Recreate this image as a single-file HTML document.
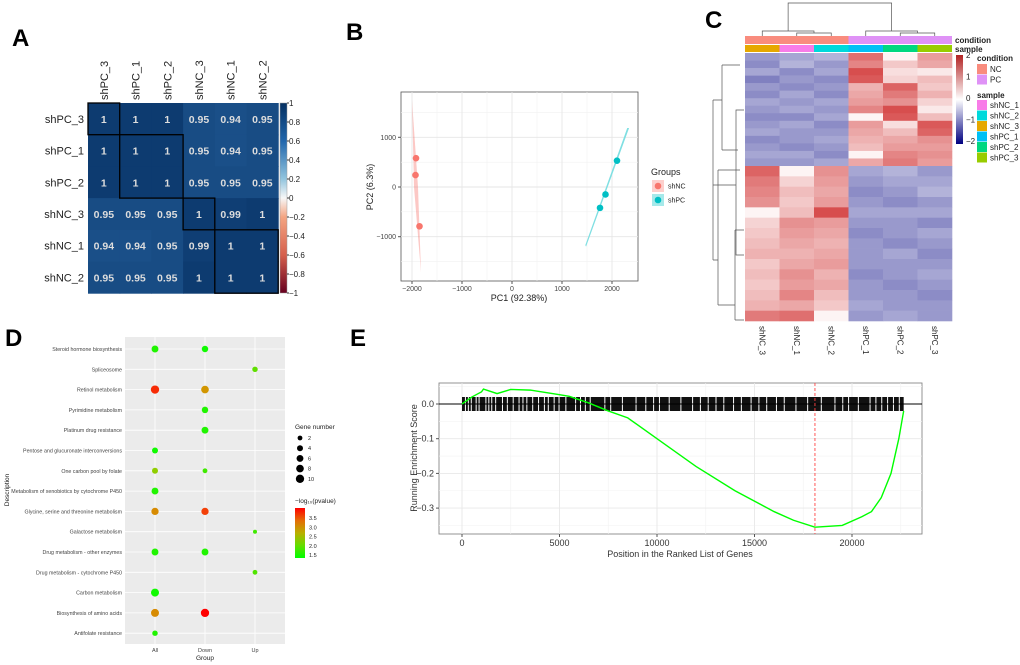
<!DOCTYPE html>
<html><head><meta charset="utf-8"><style>
body{margin:0;background:#fff;}
svg{display:block;font-family:"Liberation Sans",Arial,sans-serif;}
</style></head><body>
<svg id="s" width="1020" height="665" viewBox="0 0 1020 665">
<text x="12" y="46" font-size="24" font-weight="bold">A</text>
<text x="346" y="40" font-size="24" font-weight="bold">B</text>
<text x="705" y="28" font-size="24" font-weight="bold">C</text>
<text x="5" y="346" font-size="24" font-weight="bold">D</text>
<text x="350" y="346" font-size="24" font-weight="bold">E</text>
</svg>
<script>
const NS='http://www.w3.org/2000/svg';const S=document.getElementById('s');
function mk(t,a,p){const e=document.createElementNS(NS,t);for(const k in a)e.setAttribute(k,a[k]);(p||S).appendChild(e);return e;}
function tx(x,y,s,a,p){const e=mk('text',Object.assign({x:x,y:y},a),p);e.textContent=s;return e;}

// ---------- Panel A data ----------
const corrLabels=['shPC_3','shPC_1','shPC_2','shNC_3','shNC_1','shNC_2'];
const corrValues=[[1,1,1,0.95,0.94,0.95],[1,1,1,0.95,0.94,0.95],[1,1,1,0.95,0.95,0.95],[0.95,0.95,0.95,1,0.99,1],[0.94,0.94,0.95,0.99,1,1],[0.95,0.95,0.95,1,1,1]];
const corrTicks=[1,0.8,0.6,0.4,0.2,0,-0.2,-0.4,-0.6,-0.8,-1];
// ---------- Panel B data ----------
const pcaNC_x=[-1920,-1930,-1850], pcaNC_y=[580,240,-790];
const pcaPC_x=[2100,1870,1760], pcaPC_y=[530,-150,-420];
const pcaXTicks=[-2000,-1000,0,1000,2000], pcaYTicks=[1000,0,-1000];
// ---------- Panel C data ----------
const hmCols=['shNC_3','shNC_1','shNC_2','shPC_1','shPC_2','shPC_3'];
const hmRowsTop=[[-0.8,-0.7,-0.6,1.3,0.1,0.9],[-0.9,-0.6,-0.8,1.1,0.5,0.8],[-0.7,-0.9,-0.7,1.6,0.3,0.2],[-1.0,-0.8,-0.9,1.5,0.4,0.6],[-0.8,-0.9,-0.8,0.7,1.4,0.5],[-0.9,-0.7,-0.9,0.8,1.2,0.7],[-0.7,-0.8,-0.7,0.9,1.0,0.4],[-0.8,-0.7,-0.8,1.1,1.6,0.2],[-0.9,-0.9,-0.7,0.1,1.5,0.6],[-0.8,-0.7,-0.9,0.9,0.3,1.5],[-0.7,-0.8,-0.8,0.8,0.6,1.4],[-0.9,-0.8,-0.7,0.7,0.8,1.0],[-0.8,-0.9,-0.8,0.6,0.9,0.9],[-0.7,-0.7,-0.9,0.1,1.1,1.0],[-0.8,-0.8,-0.7,0.8,1.2,0.9]];
const hmRowsBot=[[1.4,0.1,1.0,-0.7,-0.6,-0.8],[1.2,0.4,0.9,-0.8,-0.7,-0.7],[1.1,0.6,0.8,-0.9,-0.8,-0.6],[1.0,0.5,0.9,-0.8,-0.9,-0.8],[0.1,0.6,1.6,-0.7,-0.7,-0.7],[0.4,1.0,0.9,-0.8,-0.8,-0.9],[0.5,0.9,0.8,-0.9,-0.8,-0.7],[0.6,0.8,0.7,-0.8,-0.9,-0.8],[0.7,0.7,0.8,-0.8,-0.7,-0.9],[0.5,0.8,0.9,-0.8,-0.8,-0.8],[0.6,1.0,0.7,-0.9,-0.8,-0.7],[0.5,0.9,0.8,-0.8,-0.9,-0.8],[0.6,1.1,0.6,-0.8,-0.8,-0.9],[0.7,0.8,0.5,-0.7,-0.8,-0.8],[1.2,1.3,0.1,-0.8,-0.7,-0.8]];
// ---------- Panel D data ----------
const goTerms=['Steroid hormone biosynthesis','Spliceosome','Retinol metabolism','Pyrimidine metabolism','Platinum drug resistance','Pentose and glucuronate interconversions','One carbon pool by folate','Metabolism of xenobiotics by cytochrome P450','Glycine, serine and threonine metabolism','Galactose metabolism','Drug metabolism - other enzymes','Drug metabolism - cytochrome P450','Carbon metabolism','Biosynthesis of amino acids','Antifolate resistance'];
const goGroups=['All','Down','Up'];
const dotTerm=[0,0,1,2,2,3,4,5,6,6,7,8,8,9,10,10,11,12,13,13,14];
const dotGroup=[0,1,2,0,1,1,1,0,0,1,0,0,1,2,0,1,2,0,0,1,0];
const dotCount=[6,5,3,10,8,5,6,4,4,2,6,7,7,1,6,6,2,9,9,10,3];
const dotLogP=[1.6,1.5,2.0,3.7,2.9,1.6,1.6,1.5,2.3,1.8,1.6,3.0,3.6,1.8,1.6,1.6,1.9,1.5,3.0,3.9,1.6];
// ---------- Panel E data ----------
const gseaPos=[0,500,1000,1100,1800,2500,3500,5000,5500,6500,7500,8500,10000,12000,14000,16000,17000,18100,19500,20500,21000,21500,22000,22400,22650];
const gseaES=[0,0.02,0.035,0.043,0.03,0.042,0.04,0.027,0.022,0.003,-0.02,-0.04,-0.1,-0.18,-0.25,-0.31,-0.335,-0.355,-0.35,-0.325,-0.31,-0.27,-0.2,-0.1,-0.02];
const gseaGaps=[150,300,450,700,850,1200,1350,1500,1700,2050,2300,2600,2900,3100,3300,3600,3900,4200,4400,4700,4950,5300,5800,6050,6300,6550,7300,7600,8200,8900,9400,9800,10100,10600,11200,11800,12200,12600,13000,13400,13900,14300,14800,15200,15600,16100,16500,17100,17700,18400,19100,19500,19800,20300,20900,21200,21500,21800,22100,22400];
const gseaXTicks=[0,5000,10000,15000,20000], gseaYTicks=[0,-0.1,-0.2,-0.3];

// ===== Panel A =====
(function(){
 const x0=88,y0=103,cw=31.7;
 function col(v){
  if(v>=0.9){const t=(1-v)/0.1;return `rgb(${Math.round(13+t*22)},${Math.round(59+t*33)},${Math.round(112+t*40)})`;}
  return '#2166ac';}
 const g=mk('g',{});
 corrValues.forEach((row,i)=>row.forEach((v,j)=>{
  const r=mk('rect',{x:x0+j*cw,y:y0+i*cw,width:cw+0.5,height:cw+0.5,fill:col(v)},g);
  
  const t=tx(x0+j*cw+cw/2,y0+i*cw+cw/2+4,String(v),{'font-size':10.5,'font-weight':'bold',fill:'#ddd','text-anchor':'middle'},g);
  
 }));
 const boxes=[[0,1],[1,3],[3,4],[4,6]];
 boxes.forEach(b=>{const r=mk('rect',{x:x0+b[0]*cw,y:y0+b[0]*cw,width:(b[1]-b[0])*cw,height:(b[1]-b[0])*cw,fill:'none',stroke:'#000','stroke-width':1.3},g);});
 corrLabels.forEach((l,i)=>{
  const t=tx(x0-4,y0+i*cw+cw/2+4,l,{'font-size':11,'text-anchor':'end',fill:'#222'},g);
  const c=tx(0,0,l,{'font-size':11,fill:'#222',transform:`translate(${x0+i*cw+cw/2+4},${y0-3}) rotate(-90)`},g);
 });
 const gr=mk('linearGradient',{id:'rdbu',x1:0,y1:0,x2:0,y2:1},mk('defs',{}));
 [['0','#053061'],['0.2','#2166ac'],['0.4','#92c5de'],['0.5','#f7f7f7'],['0.6','#f4a582'],['0.8','#d6604d'],['1','#67001f']].forEach(s=>mk('stop',{offset:s[0],'stop-color':s[1]},gr));
 const cb=mk('rect',{x:280,y:y0,width:7,height:190,fill:'url(#rdbu)',stroke:'#999','stroke-width':0.5},g);
 corrTicks.forEach(v=>{const y=y0+(1-v)/2*190;mk('line',{x1:287,x2:289,y1:y,y2:y,stroke:'#333'},g);
  const t=tx(289,y+3,String(v).replace('-','−'),{'font-size':8,fill:'#222'},g);});
})();

// ===== Panel B =====
(function(){
 const X=v=>512+v*0.05, Y=v=>187-v*0.0497;
 const g=mk('g',{});
 mk('rect',{x:401,y:92,width:237,height:189,fill:'#fff',stroke:'#555','stroke-width':0.8},g);
 [-1500,-500,500,1500].forEach(v=>mk('line',{x1:X(v),x2:X(v),y1:92,y2:281,stroke:'#f2f2f2','stroke-width':0.6},g));
 [1500,500,-500,-1500].forEach(v=>mk('line',{x1:401,x2:638,y1:Y(v),y2:Y(v),stroke:'#f2f2f2','stroke-width':0.6},g));
 pcaXTicks.forEach(v=>{mk('line',{x1:X(v),x2:X(v),y1:92,y2:281,stroke:'#e6e6e6','stroke-width':0.9},g);mk('line',{x1:X(v),x2:X(v),y1:281,y2:284,stroke:'#555'},g);
  const t=tx(X(v),291,String(v).replace('-','−'),{'font-size':7,fill:'#444','text-anchor':'middle'},g);});
 pcaYTicks.forEach(v=>{mk('line',{x1:401,x2:638,y1:Y(v),y2:Y(v),stroke:'#e6e6e6','stroke-width':0.9},g);mk('line',{x1:398,x2:401,y1:Y(v),y2:Y(v),stroke:'#555'},g);
  const t=tx(396,Y(v)+2.5,String(v).replace('-','−'),{'font-size':7,fill:'#444','text-anchor':'end'},g);});
 mk('polygon',{points:`${X(-2000)},${Y(1750)} ${X(-1880)},${Y(0)} ${X(-1820)},${Y(-1720)} ${X(-1960)},${Y(0)}`,fill:'#f8766d','fill-opacity':0.4,},g);
 mk('polygon',{points:`${X(1480)},${Y(-1180)} ${X(2330)},${Y(1180)} ${X(2310)},${Y(1180)} ${X(1475)},${Y(-1170)}`,fill:'#00bfc4','fill-opacity':0.5,stroke:'#7fdfe2','stroke-width':0.8,},g);
 pcaNC_x.forEach((v,i)=>{const c=mk('circle',{cx:X(v),cy:Y(pcaNC_y[i]),r:3.3,fill:'#f8766d'},g);});
 pcaPC_x.forEach((v,i)=>{const c=mk('circle',{cx:X(v),cy:Y(pcaPC_y[i]),r:3.3,fill:'#00bfc4'},g);});
 tx(519,301,'PC1 (92.38%)',{'font-size':9,fill:'#222','text-anchor':'middle',},g);
 tx(0,0,'PC2 (6.3%)',{'font-size':9,fill:'#222','text-anchor':'middle',transform:'translate(373,187) rotate(-90)',},g);
 tx(651,175,'Groups',{'font-size':9,fill:'#222',},g);
 [['shNC','#f8766d',186],['shPC','#00bfc4',200]].forEach(e=>{mk('rect',{x:652,y:e[2]-6,width:12,height:12,fill:e[1],'fill-opacity':0.35},g);mk('circle',{cx:658,cy:e[2],r:3.3,fill:e[1]},g);
  const t=tx(668,e[2]+2.5,e[0],{'font-size':7,fill:'#222'},g);});
})();

// ===== Panel C =====
(function(){
 const x0=745,y0=53,cw=34.5,H=268,split=166;
 const g=mk('g',{});
 function hc(v){v=Math.max(-2,Math.min(2,v));
  if(v<0){const t=-v/2;return `rgb(${Math.round(255-t*255)},${Math.round(255-t*255)},${Math.round(255-t*127)})`;}
  const t=v/2;return `rgb(${Math.round(255-t*50)},${Math.round(255-t*221)},${Math.round(255-t*221)})`;}
 function block(rows,ya,yb){const rh=(yb-ya)/rows.length;rows.forEach((r,i)=>r.forEach((v,j)=>{
  const e=mk('rect',{x:x0+j*cw,y:ya+i*rh,width:cw+0.3,height:rh+0.3,fill:hc(v)},g);}));}
 block(hmRowsTop,y0,split);block(hmRowsBot,split,y0+H);
 const sampCol={'shNC_1':'#f87ce8','shNC_2':'#00d9db','shNC_3':'#e6a800','shPC_1':'#00c0f5','shPC_2':'#00d780','shPC_3':'#98cc00'};
 hmCols.forEach((c,j)=>{mk('rect',{x:x0+j*cw,y:36,width:cw,height:8,fill:j<3?'#f98c7e':'#df92f6',},g);
  mk('rect',{x:x0+j*cw,y:45,width:cw,height:7,fill:sampCol[c],},g);
  const t=tx(0,0,c,{'font-size':8,fill:'#222',transform:`translate(${x0+j*cw+cw/2-3},326) rotate(90)`},g);});
 const xs=hmCols.map((c,j)=>x0+j*cw+cw/2);
 const dg=`M${xs[1]},36V33H${xs[2]}V36 M${xs[0]},36V31H${(xs[1]+xs[2])/2}V33 M${xs[4]},36V33H${xs[5]}V36 M${xs[3]},36V31H${(xs[4]+xs[5])/2}V33 M${(xs[0]+(xs[1]+xs[2])/2)/2},31V3H${(xs[3]+(xs[4]+xs[5])/2)/2}V31`;
 mk('path',{d:dg,fill:'none',stroke:'#555','stroke-width':0.7,},g);
 mk('path',{d:'M744,110H736V255H744 M736,185H713 M713,185V100 M713,100H722 M722,65H740 M722,65V150 M722,150H738 M713,185V260 M713,260H718 M718,170H740 M718,170V305 M718,305H735 M735,230H744 M735,230V320 M735,320H744',fill:'none',stroke:'#555','stroke-width':0.7,},g);
 const gr=mk('linearGradient',{id:'hmg',x1:0,y1:0,x2:0,y2:1},mk('defs',{}));
 [['0','#b22222'],['0.5','#ffffff'],['1','#000080']].forEach(s=>mk('stop',{offset:s[0],'stop-color':s[1]},gr));
 mk('rect',{x:956,y:55,width:7,height:89,fill:'url(#hmg)',},g);
 [2,1,0,-1,-2].forEach((v,i)=>{const t=tx(966,58+i*21.5,String(v).replace('-','−'),{'font-size':8,fill:'#222'},g);});
 tx(955,43,'condition',{'font-size':8,'font-weight':'bold',fill:'#222',},g);
 tx(955,52,'sample',{'font-size':8,'font-weight':'bold',fill:'#222',},g);
 tx(977,61,'condition',{'font-size':8,'font-weight':'bold',fill:'#222',},g);
 [['NC','#f98c7e'],['PC','#df92f6']].forEach((e,i)=>{mk('rect',{x:977,y:64+i*10.5,width:10,height:10,fill:e[1]},g);const t=tx(990,72+i*10.5,e[0],{'font-size':8,fill:'#222'},g);});
 tx(977,98,'sample',{'font-size':8,'font-weight':'bold',fill:'#222',},g);
 ['shNC_1','shNC_2','shNC_3','shPC_1','shPC_2','shPC_3'].forEach((s,i)=>{mk('rect',{x:977,y:100+i*10.5,width:10,height:10,fill:sampCol[s]},g);const t=tx(990,108+i*10.5,s,{'font-size':8,fill:'#222'},g);});
})();

// ===== Panel D =====
(function(){
 const g=mk('g',{});
 const X=i=>155+i*50, Y=i=>349+i*20.3;
 mk('rect',{x:125,y:337,width:160,height:307,fill:'#ebebeb'},g);
 goGroups.forEach((gname,i)=>{mk('line',{x1:X(i),x2:X(i),y1:337,y2:644,stroke:'#fff','stroke-width':0.8},g);
  const t=tx(X(i),652,gname,{'font-size':5.5,fill:'#444','text-anchor':'middle'},g);});
 goTerms.forEach((n,i)=>{mk('line',{x1:125,x2:285,y1:Y(i),y2:Y(i),stroke:'#fff','stroke-width':0.8},g);
  const t=tx(122,Y(i)+2,n,{'font-size':5.3,fill:'#444','text-anchor':'end'},g);});
 function pc(v){const t=Math.max(0,Math.min(1,(v-1.4)/2.5));const st=[[0,[0,255,0]],[0.4,[160,200,0]],[0.6,[210,150,0]],[0.85,[240,80,10]],[1,[255,0,0]]];
  for(let k=1;k<st.length;k++)if(t<=st[k][0]){const a=st[k-1],b=st[k],u=(t-a[0])/(b[0]-a[0]);return 'rgb('+a[1].map((c,m)=>Math.round(c+(b[1][m]-c)*u)).join(',')+')';}return 'red';}
 const R=c=>1+Math.sqrt(c)*1.0;
 dotTerm.forEach((ti,i)=>{const c=mk('circle',{cx:X(dotGroup[i]),cy:Y(ti),r:R(dotCount[i]),fill:pc(dotLogP[i])},g);});
 tx(205,660,'Group',{'font-size':6.5,fill:'#222','text-anchor':'middle',},g);
 tx(0,0,'Description',{'font-size':6.5,fill:'#222','text-anchor':'middle',transform:'translate(9,490) rotate(-90)',},g);
 tx(295,429,'Gene number',{'font-size':6.5,fill:'#222',},g);
 [2,4,6,8,10].forEach((v,i)=>{mk('circle',{cx:300,cy:438+i*10.2,r:R(v),fill:'#000'},g);const t=tx(308,440+i*10.2,String(v),{'font-size':5.5,fill:'#222'},g);});
 tx(295,503,'−log₁₀(pvalue)',{'font-size':6.5,fill:'#222',},g);
 const gr=mk('linearGradient',{id:'gd',x1:0,y1:1,x2:0,y2:0},mk('defs',{}));
 [0,0.25,0.5,0.75,1].forEach(o=>mk('stop',{offset:o,'stop-color':pc(1.4+o*2.5)},gr));
 mk('rect',{x:295,y:508,width:10,height:50,fill:'url(#gd)',},g);
 [3.5,3.0,2.5,2.0,1.5].forEach((v,i)=>{const t=tx(309,520+i*9.3,v.toFixed(1),{'font-size':5.5,fill:'#222'},g);});
})();

// ===== Panel E =====
(function(){
 const g=mk('g',{});
 const X=v=>462+v*0.0195, Y=v=>404-v*347;
 mk('rect',{x:439,y:383,width:483,height:151,fill:'#fff',stroke:'#888','stroke-width':0.9},g);
 [2500,7500,12500,17500,22500].forEach(v=>mk('line',{x1:X(v),x2:X(v),y1:383,y2:534,stroke:'#f3f3f3','stroke-width':0.6},g));
 [0.05,-0.05,-0.15,-0.25,-0.35].forEach(v=>mk('line',{x1:439,x2:922,y1:Y(v),y2:Y(v),stroke:'#f3f3f3','stroke-width':0.6},g));
 gseaXTicks.forEach(v=>{mk('line',{x1:X(v),x2:X(v),y1:383,y2:534,stroke:'#e8e8e8','stroke-width':0.9},g);mk('line',{x1:X(v),x2:X(v),y1:534,y2:537,stroke:'#555'},g);
  const t=tx(X(v),546,String(v),{'font-size':9,fill:'#333','text-anchor':'middle'},g);});
 gseaYTicks.forEach(v=>{mk('line',{x1:439,x2:922,y1:Y(v),y2:Y(v),stroke:'#e8e8e8','stroke-width':0.9},g);mk('line',{x1:436,x2:439,y1:Y(v),y2:Y(v),stroke:'#555'},g);
  const t=tx(434,Y(v)+3,(v===0?'0.0':v.toFixed(1)).replace('-','−'),{'font-size':9,fill:'#333','text-anchor':'end'},g);});
 mk('rect',{x:X(0),y:397,width:X(22650)-X(0),height:14,fill:'#111',},g);
 gseaGaps.forEach(v=>{const r=mk('rect',{x:X(v),y:397,width:1,height:14,fill:'#fff'},g);});
 mk('line',{x1:439,x2:922,y1:Y(0),y2:Y(0),stroke:'#000','stroke-width':0.9,},g);
 mk('line',{x1:X(18100),x2:X(18100),y1:383,y2:534,stroke:'#f44','stroke-width':0.9,'stroke-dasharray':'3,2',},g);
 mk('polyline',{points:gseaPos.map((p,i)=>X(p)+','+Y(gseaES[i])).join(' '),fill:'none',stroke:'#00ff00','stroke-width':1.4,},g);
 tx(680,557,'Position in the Ranked List of Genes',{'font-size':9,fill:'#333','text-anchor':'middle',},g);
 tx(0,0,'Running Enrichment Score',{'font-size':9,fill:'#333','text-anchor':'middle',transform:'translate(417,458) rotate(-90)',},g);
})();
</script>
</body></html>
